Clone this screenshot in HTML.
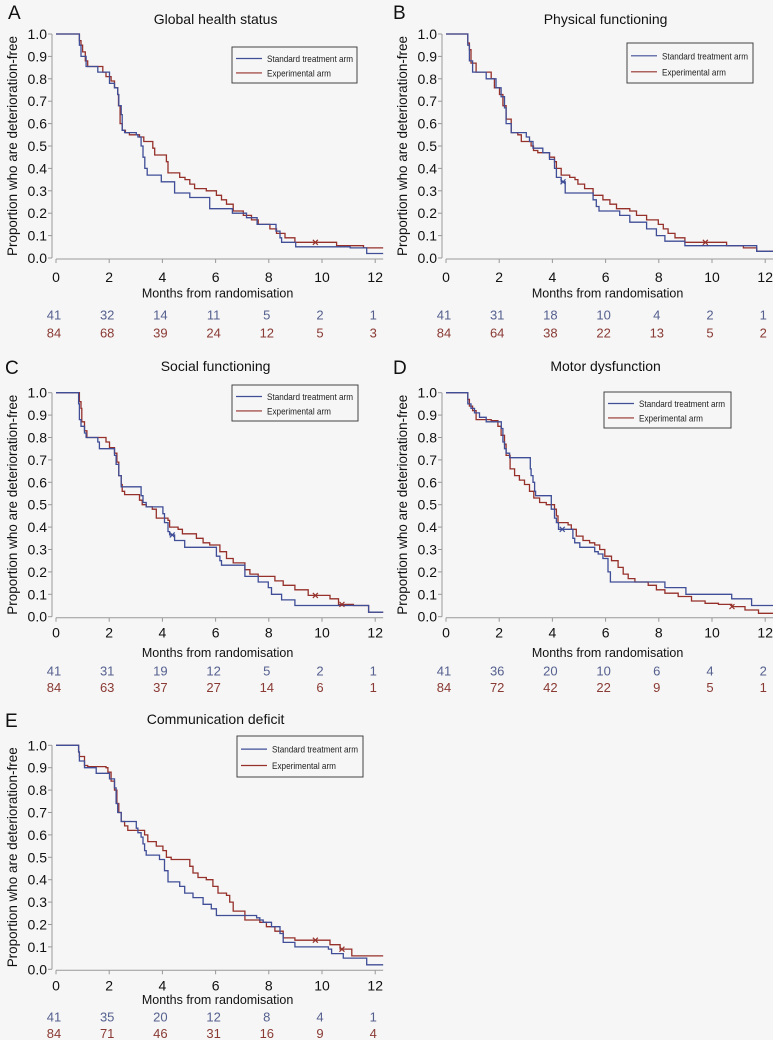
<!DOCTYPE html>
<html><head><meta charset="utf-8"><style>
html,body{margin:0;padding:0;background:#f6f6f6;}
svg{display:block;font-family:"Liberation Sans",Arial,sans-serif;}
</style></head><body>
<svg id="fig" width="773" height="1040" viewBox="0 0 773 1040">
<rect width="773" height="1040" fill="#f6f6f6"/>
</svg>
<script>
// ---- data ----
const riskTimes = [0,2,4,6,8,10,12];
const yTicks = [0,0.1,0.2,0.3,0.4,0.5,0.6,0.7,0.8,0.9,1.0];

const titleA = "Global health status";
const stdTimesA = [0.88,0.94,1.13,1.57,2.01,2.2,2.32,2.36,2.45,2.49,2.58,3.02,3.08,3.2,3.27,3.34,3.43,3.96,4.46,5.03,5.78,6.63,7.16,7.56,8.27,8.42,8.48,9.01,11.06,11.68];
const stdSurvA  = [0.95,0.90,0.855,0.83,0.78,0.76,0.73,0.68,0.64,0.57,0.56,0.55,0.54,0.50,0.45,0.40,0.37,0.34,0.29,0.27,0.22,0.20,0.18,0.15,0.12,0.09,0.07,0.05,0.045,0.02];
const expTimesA = [0.88,0.94,1.0,1.1,1.19,1.76,1.88,2.07,2.2,2.32,2.35,2.41,2.49,2.61,2.76,3.14,3.3,3.64,3.71,4.15,4.21,4.65,4.85,5.03,5.21,5.65,6.03,6.22,6.41,6.66,7.04,7.35,7.6,8.04,8.29,8.61,8.98,10.55,11.56];
const expSurvA  = [0.97,0.95,0.92,0.88,0.855,0.83,0.81,0.79,0.76,0.73,0.68,0.60,0.57,0.56,0.55,0.54,0.52,0.49,0.46,0.43,0.38,0.36,0.35,0.33,0.31,0.30,0.28,0.26,0.24,0.21,0.19,0.17,0.15,0.13,0.11,0.09,0.07,0.055,0.045];
const stdCensA = [];
const expCensA = [9.75];
const riskStdA = [41,32,14,11,5,2,1];
const riskExpA = [84,68,39,24,12,5,3];

const titleB = "Physical functioning";
const stdTimesB = [0.82,0.88,1.0,1.51,1.88,2.07,2.2,2.26,2.45,3.02,3.14,3.27,3.64,3.89,4.08,4.15,4.33,4.48,5.53,5.65,5.75,5.87,6.53,6.91,7.1,7.54,7.91,8.23,8.98,11.68];
const stdSurvB  = [0.95,0.88,0.83,0.80,0.76,0.72,0.67,0.60,0.56,0.54,0.52,0.49,0.47,0.44,0.40,0.36,0.34,0.29,0.26,0.23,0.21,0.21,0.19,0.16,0.16,0.13,0.10,0.075,0.055,0.03];
const expTimesB = [0.82,0.88,0.94,1.13,1.70,1.82,2.01,2.14,2.26,2.45,2.7,2.83,3.2,3.29,3.45,3.89,4.08,4.15,4.33,4.65,4.85,4.96,5.21,5.53,5.9,6.16,6.41,6.91,7.16,7.54,7.98,8.17,8.35,8.61,8.98,10.55,11.18,11.68];
const expSurvB  = [0.96,0.93,0.87,0.83,0.80,0.76,0.73,0.68,0.62,0.56,0.55,0.52,0.50,0.48,0.47,0.45,0.43,0.40,0.37,0.36,0.35,0.33,0.31,0.28,0.26,0.24,0.22,0.21,0.19,0.17,0.15,0.13,0.11,0.09,0.07,0.055,0.045,0.03];
const stdCensB = [4.4];
const expCensB = [9.75];
const riskStdB = [41,31,18,10,4,2,1];
const riskExpB = [84,64,38,22,13,5,2];

const titleC = "Social functioning";
const stdTimesC = [0.85,0.88,0.94,1.07,1.13,1.57,1.63,2.07,2.2,2.26,2.36,2.45,3.2,3.27,3.39,4.02,4.08,4.21,4.27,4.46,4.84,6.03,6.16,6.22,7.1,7.6,7.98,8.1,8.48,8.98,11.75];
const stdSurvC  = [0.95,0.88,0.85,0.82,0.80,0.78,0.75,0.75,0.72,0.68,0.63,0.58,0.54,0.51,0.49,0.46,0.42,0.38,0.365,0.34,0.31,0.27,0.25,0.23,0.18,0.155,0.13,0.10,0.075,0.05,0.02];
const expTimesC = [0.88,0.94,0.97,1.07,1.16,1.88,2.01,2.2,2.29,2.36,2.45,2.49,2.58,3.14,3.24,3.39,3.62,3.77,4.21,4.27,4.59,4.75,5.28,5.53,5.78,6.16,6.41,6.66,7.1,7.29,7.6,8.23,8.54,8.98,9.48,10.3,10.62,11.18,11.75];
const expSurvC  = [0.96,0.93,0.87,0.83,0.80,0.78,0.755,0.73,0.69,0.63,0.59,0.56,0.545,0.52,0.50,0.49,0.48,0.44,0.43,0.40,0.39,0.37,0.35,0.33,0.32,0.29,0.26,0.24,0.21,0.19,0.18,0.16,0.14,0.12,0.095,0.08,0.055,0.05,0.02];
const stdCensC = [4.37];
const expCensC = [9.75,10.75];
const riskStdC = [41,31,19,12,5,2,1];
const riskExpC = [84,63,37,27,14,6,1];

const titleD = "Motor dysfunction";
const stdTimesD = [0.82,0.94,1.07,1.26,1.51,2.08,2.14,2.2,2.26,2.39,3.17,3.2,3.27,3.33,3.37,3.96,4.08,4.15,4.23,4.77,4.84,5.03,5.59,5.72,5.9,6.09,6.18,8.23,9.02,10.74,11.49];
const stdSurvD  = [0.95,0.93,0.91,0.89,0.87,0.84,0.78,0.75,0.73,0.71,0.66,0.63,0.60,0.56,0.54,0.48,0.44,0.42,0.39,0.35,0.33,0.31,0.29,0.28,0.26,0.20,0.155,0.13,0.10,0.08,0.05];
const expTimesD = [0.82,0.88,1.0,1.13,1.70,1.95,2.07,2.2,2.26,2.41,2.58,2.76,2.95,3.14,3.3,3.52,3.77,4.08,4.15,4.21,4.59,4.71,4.9,5.15,5.4,5.59,5.78,5.97,6.22,6.47,6.66,6.85,7.1,7.6,7.91,8.23,8.73,9.23,9.74,10.24,10.74,11.24,11.75];
const expSurvD  = [0.97,0.94,0.92,0.88,0.875,0.85,0.81,0.77,0.72,0.66,0.63,0.61,0.59,0.56,0.53,0.51,0.50,0.48,0.45,0.42,0.41,0.39,0.36,0.34,0.33,0.32,0.30,0.27,0.25,0.22,0.19,0.17,0.155,0.14,0.12,0.105,0.09,0.07,0.06,0.055,0.045,0.03,0.015];
const stdCensD = [4.37];
const expCensD = [10.75];
const riskStdD = [41,36,20,10,6,4,2];
const riskExpD = [84,72,42,22,9,5,1];

const titleE = "Communication deficit";
const stdTimesE = [0.85,0.88,1.07,1.51,2.01,2.2,2.26,2.32,2.45,3.02,3.08,3.2,3.27,3.33,3.39,3.89,4.08,4.21,4.65,4.84,5.15,5.53,5.84,6.03,7.54,7.66,7.79,8.1,8.42,8.54,8.98,10.24,10.36,10.8,11.68];
const stdSurvE  = [0.97,0.93,0.90,0.875,0.85,0.81,0.74,0.70,0.66,0.63,0.61,0.59,0.56,0.53,0.51,0.49,0.44,0.39,0.37,0.34,0.32,0.29,0.27,0.24,0.23,0.22,0.21,0.19,0.16,0.12,0.10,0.09,0.07,0.05,0.02];
const expTimesE = [0.85,0.88,1.07,1.19,1.88,1.95,2.07,2.2,2.29,2.36,2.45,2.58,2.7,3.2,3.33,3.45,3.77,4.02,4.15,4.33,5.03,5.15,5.34,5.65,5.9,6.09,6.41,6.53,6.66,7.1,7.66,7.91,8.23,8.54,8.98,10.3,10.68,11.12];
const expSurvE  = [0.97,0.95,0.91,0.905,0.90,0.88,0.84,0.80,0.74,0.70,0.66,0.64,0.62,0.62,0.60,0.57,0.55,0.53,0.50,0.49,0.46,0.43,0.41,0.40,0.37,0.34,0.33,0.30,0.26,0.22,0.21,0.19,0.17,0.14,0.13,0.11,0.09,0.06];
const stdCensE = [];
const expCensE = [9.75,10.75];
const riskStdE = [41,35,20,12,8,4,1];
const riskExpE = [84,71,46,31,16,9,4];

// ---- layout ----
const NS = "http://www.w3.org/2000/svg";
const svg = document.getElementById('fig');
const BLUE = "#3f4e97", RED = "#95302a", RBLUE = "#55608f", RRED = "#8a3a34";
function mk(tag, attrs, parent){const e=document.createElementNS(NS,tag);for(const k in attrs)e.setAttribute(k,attrs[k]);(parent||svg).appendChild(e);return e;}

const panels = [
 {id:'a',letter:'A',lx:8,ly:19,ty:24,title:titleA,x0:56,top:34,bot:258,off:[19,35,57,75],leg:[232,47,125,36],st:stdTimesA,ss:stdSurvA,et:expTimesA,es:expSurvA,sc:stdCensA,ec:expCensA,rs:riskStdA,re:riskExpA},
 {id:'b',letter:'B',lx:393,ly:19,ty:24,title:titleB,x0:446,top:34,bot:258,off:[19,35,57,75],leg:[627,43,126,40],st:stdTimesB,ss:stdSurvB,et:expTimesB,es:expSurvB,sc:stdCensB,ec:expCensB,rs:riskStdB,re:riskExpB},
 {id:'c',letter:'C',lx:5,ly:374,ty:371,title:titleC,x0:56,top:392.7,bot:616.7,off:[16,36,54.3,70.6],leg:[232,385,126,36],st:stdTimesC,ss:stdSurvC,et:expTimesC,es:expSurvC,sc:stdCensC,ec:expCensC,rs:riskStdC,re:riskExpC},
 {id:'d',letter:'D',lx:393,ly:374,ty:371,title:titleD,x0:446,top:392.7,bot:616.7,off:[16,36,54.3,70.6],leg:[604,392,127,36],st:stdTimesD,ss:stdSurvD,et:expTimesD,es:expSurvD,sc:stdCensD,ec:expCensD,rs:riskStdD,re:riskExpD},
 {id:'e',letter:'E',lx:5,ly:727,ty:724,title:titleE,x0:56,top:745.3,bot:969.3,off:[16,30,47.7,64],leg:[237,736,126,41],st:stdTimesE,ss:stdSurvE,et:expTimesE,es:expSurvE,sc:stdCensE,ec:expCensE,rs:riskStdE,re:riskExpE}
];

const PXM = 26.6, XMAX = 12.3;
panels.forEach(p=>{
  const X = t => p.x0 + t*PXM;
  const Y = v => p.bot - v*(p.bot-p.top);
  const g = mk('g',{});
  
  
  const cx = X(6);
  let t = mk('text',{x:p.lx,y:p.ly,'font-size':19,fill:'#111'},g); t.textContent=p.letter;
   
  t = mk('text',{x:cx,y:p.ty,'font-size':14,fill:'#111','text-anchor':'middle'},g); t.textContent=p.title;
   
  const ax = p.x0-4;
  let l = mk('line',{x1:ax,y1:p.top,x2:ax,y2:p.bot,stroke:'#999','stroke-width':1},g);
   
  yTicks.forEach(v=>{
    mk('line',{x1:ax-4,y1:Y(v),x2:ax,y2:Y(v),stroke:'#999'},g);
    const tt = mk('text',{x:ax-5,y:Y(v)+5,'font-size':14,fill:'#111','text-anchor':'end'},g);
    tt.textContent = v.toFixed(1);
     
  });
  const yl = mk('text',{transform:`translate(${p.x0-39},${(p.top+p.bot)/2}) rotate(-90)`,'font-size':14,fill:'#111','text-anchor':'middle',textLength:220,lengthAdjust:'spacingAndGlyphs'},g);
  yl.textContent='Proportion who are deterioration-free';
   
  l = mk('line',{x1:p.x0,y1:p.bot+1,x2:X(XMAX),y2:p.bot+1,stroke:'#999'},g);
   
  riskTimes.forEach((m,i)=>{
    mk('line',{x1:X(m),y1:p.bot+1,x2:X(m),y2:p.bot+5,stroke:'#999'},g);
    const tt = mk('text',{x:X(m),y:p.bot+p.off[0]+5,'font-size':14,fill:'#111','text-anchor':'middle'},g);
    tt.textContent = m;
     
    const r1 = mk('text',{x:X(m)-2,y:p.bot+p.off[2]+4.5,'font-size':13,fill:RBLUE,'text-anchor':'middle'},g);
    r1.textContent = p.rs[i];
     
    const r2 = mk('text',{x:X(m)-2,y:p.bot+p.off[3]+4.5,'font-size':13,fill:RRED,'text-anchor':'middle'},g);
    r2.textContent = p.re[i];
     
  });
  const xl = mk('text',{x:X(6)+2,y:p.bot+p.off[1]+4.5,'font-size':12.5,fill:'#111','text-anchor':'middle'},g);
  xl.textContent='Months from randomisation';
   
  function stepPath(ts, ss){
    let d = `M${X(0)},${Y(1)}`;
    ts.forEach((tm,i)=>{ d += `H${X(tm).toFixed(1)}V${Y(ss[i]).toFixed(1)}`; });
    return d + `H${X(XMAX)}`;
  }
  function survAt(ts, ss, tm){ let v=1; ts.forEach((x,i)=>{ if(x<=tm) v=ss[i]; }); return v; }
  const pe = mk('path',{d:stepPath(p.et,p.es),fill:'none',stroke:RED,'stroke-width':1.3},g);
   
  const ps = mk('path',{d:stepPath(p.st,p.ss),fill:'none',stroke:BLUE,'stroke-width':1.3},g);
   
  [[p.sc,p.st,p.ss,BLUE],[p.ec,p.et,p.es,RED]].forEach(([cs,ts,ss,col])=>{
    cs.forEach(tm=>{
      const x=X(tm), y=Y(survAt(ts,ss,tm));
      const c = mk('path',{d:`M${x-2.5},${y-2.5}L${x+2.5},${y+2.5}M${x-2.5},${y+2.5}L${x+2.5},${y-2.5}`,stroke:col,'stroke-width':1.2},g);
       
    });
  });
  const [lx,ly,lw,lh]=p.leg;
  const lg = mk('g',{},g);
   
  mk('rect',{x:lx,y:ly,width:lw,height:lh,fill:'#f6f6f6',stroke:'#444','stroke-width':1},lg);
  const r1y = ly+lh*0.32, r2y = ly+lh*0.72;
  mk('line',{x1:lx+4,y1:r1y,x2:lx+30,y2:r1y,stroke:BLUE,'stroke-width':1.2},lg);
  mk('line',{x1:lx+4,y1:r2y,x2:lx+30,y2:r2y,stroke:RED,'stroke-width':1.2},lg);
  let e1 = mk('text',{x:lx+35,y:r1y+3.5,'font-size':9.5,fill:'#222',textLength:86,lengthAdjust:'spacingAndGlyphs'},lg); e1.textContent='Standard treatment arm';
   
  let e2 = mk('text',{x:lx+35,y:r2y+3.5,'font-size':9.5,fill:'#222',textLength:64,lengthAdjust:'spacingAndGlyphs'},lg); e2.textContent='Experimental arm';
   
});
</script>
</body></html>
